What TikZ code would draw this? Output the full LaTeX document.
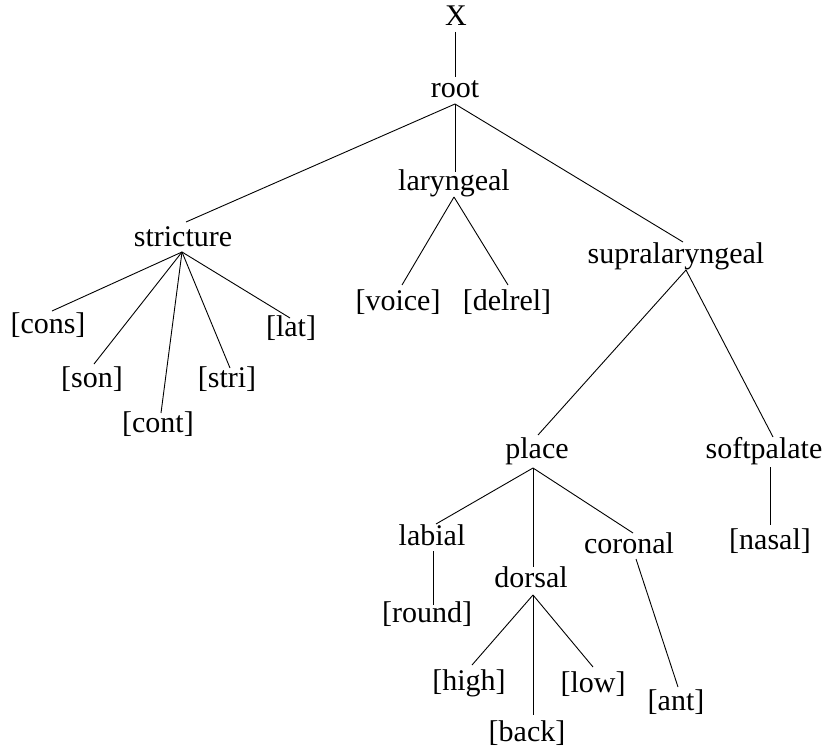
\documentclass[tikz,border=0pt]{standalone}
\usepackage{fontspec}
\setmainfont{Liberation Serif}
\tikzset{
  lbl/.style={inner sep=0pt, anchor=base, font=\fontsize{30}{36}\selectfont},
  br/.style={line width=0.9pt, black}
}
\begin{document}
\begin{tikzpicture}[x=1pt,y=-1pt]
\useasboundingbox (0,0) rectangle (826,746);
% nodes
\node[lbl] (X) at (456,26) {X};
\node[lbl] (root) at (455,98) {root};
\node[lbl] (stricture) at (183,246) {stricture};
\node[lbl] (laryngeal) at (454,190) {laryngeal};
\node[lbl] (supra) at (676,263) {supralaryngeal};
\node[lbl] (cons) at (48,333) {[cons]};
\node[lbl] (son) at (92,387) {[son]};
\node[lbl] (cont) at (158,432) {[cont]};
\node[lbl] (stri) at (227,387) {[stri]};
\node[lbl] (lat) at (291,336) {[lat]};
\node[lbl] (voice) at (398,310) {[voice]};
\node[lbl] (delrel) at (507,310) {[delrel]};
\node[lbl] (place) at (537,458) {place};
\node[lbl] (softpalate) at (764,458) {softpalate};
\node[lbl] (labial) at (432,545) {labial};
\node[lbl] (dorsal) at (531,587) {dorsal};
\node[lbl] (coronal) at (629,553) {coronal};
\node[lbl] (nasal) at (770,549) {[nasal]};
\node[lbl] (round) at (427,622) {[round]};
\node[lbl] (high) at (469,690) {[high]};
\node[lbl] (low) at (593,692) {[low]};
\node[lbl] (back) at (527,741) {[back]};
\node[lbl] (ant) at (676,710) {[ant]};
% edges
\draw[br] ([shift={(-1,6)}]X.base) -- ([shift={(0,-21)}]root.base);
\draw[br] ([shift={(0,6)}]root.base) -- ([shift={(3,-24)}]stricture.base);
\draw[br] ([shift={(0,6)}]root.base) -- ([shift={(1,-18)}]laryngeal.base);
\draw[br] ([shift={(0,6)}]root.base) -- ([shift={(7,-21)}]supra.base);
\draw[br] ([shift={(-1,6)}]stricture.base) -- ([shift={(4,-22)}]cons.base);
\draw[br] ([shift={(-1,6)}]stricture.base) -- ([shift={(2,-23)}]son.base);
\draw[br] ([shift={(-1,6)}]stricture.base) -- ([shift={(3,-19)}]cont.base);
\draw[br] ([shift={(-1,6)}]stricture.base) -- ([shift={(3,-19)}]stri.base);
\draw[br] ([shift={(-1,6)}]stricture.base) -- ([shift={(-1,-18)}]lat.base);
\draw[br] ([shift={(0,7)}]laryngeal.base) -- ([shift={(4,-25)}]voice.base);
\draw[br] ([shift={(0,7)}]laryngeal.base) -- ([shift={(1,-25)}]delrel.base);
\draw[br] ([shift={(10,7)}]supra.base) -- ([shift={(1,-23)}]place.base);
\draw[br] ([shift={(10,7)}]supra.base) -- ([shift={(9,-21)}]softpalate.base);
\draw[br] ([shift={(6,9)}]softpalate.base) -- ([shift={(0,-24)}]nasal.base);
\draw[br] ([shift={(-4,10)}]place.base) -- ([shift={(4,-21)}]labial.base);
\draw[br] ([shift={(-4,10)}]place.base) -- ([shift={(2,-20)}]dorsal.base);
\draw[br] ([shift={(-4,10)}]place.base) -- ([shift={(4,-20)}]coronal.base);
\draw[br] ([shift={(1,6)}]labial.base) -- ([shift={(6,-17)}]round.base);
\draw[br] ([shift={(2,8)}]dorsal.base) -- ([shift={(3,-25)}]high.base);
\draw[br] ([shift={(2,8)}]dorsal.base) -- ([shift={(6,-26)}]back.base);
\draw[br] ([shift={(2,8)}]dorsal.base) -- ([shift={(0,-25)}]low.base);
\draw[br] ([shift={(7,6)}]coronal.base) -- ([shift={(2,-23)}]ant.base);
\end{tikzpicture}
\end{document}
